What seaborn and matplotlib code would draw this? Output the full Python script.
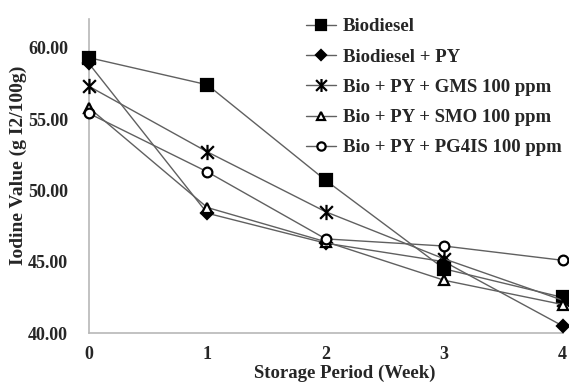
import matplotlib
matplotlib.use("Agg")
import matplotlib.pyplot as plt
from matplotlib.path import Path
import seaborn as sns
import pandas as pd

weeks = [0, 1, 2, 3, 4]
biodiesel = [59.3, 57.4, 50.7, 44.5, 42.5]
biodiesel_py = [58.9, 48.4, 46.3, 45.0, 40.5]
gms = [57.3, 52.7, 48.5, 45.2, 42.3]
smo = [55.8, 48.8, 46.4, 43.7, 42.0]
pg4is = [55.4, 51.3, 46.6, 46.1, 45.1]

labels = ["Biodiesel", "Biodiesel + PY", "Bio + PY + GMS 100 ppm",
          "Bio + PY + SMO 100 ppm", "Bio + PY + PG4IS 100 ppm"]
series = [biodiesel, biodiesel_py, gms, smo, pg4is]
y_ticks = [40.0, 45.0, 50.0, 55.0, 60.0]

sns.set_style("white")
plt.rcParams['font.family'] = ['Liberation Serif', 'DejaVu Serif']
plt.rcParams['font.weight'] = 'bold'

# Excel style "star" marker: an X with a vertical stroke
star = Path([(-1, -1), (1, 1), (-1, 1), (1, -1), (0, -1.2), (0, 1.2)],
            [Path.MOVETO, Path.LINETO, Path.MOVETO, Path.LINETO,
             Path.MOVETO, Path.LINETO])

fig = plt.figure(figsize=(5.69, 3.82), dpi=100)
ax = fig.add_axes([0.156, 0.128, 0.833, 0.822])

markers = ['s', 'D', star, '^', 'o']
sizes = [8, 6, 11, 7, 7]
faces = ['black', 'black', 'black', 'white', 'white']

for lab, vals, m, ms, fc in zip(labels, series, markers, sizes, faces):
    df = pd.DataFrame({'week': weeks, 'value': vals})
    sns.lineplot(data=df, x='week', y='value', ax=ax, label=lab,
                 color='#606060', linewidth=1.0, marker=m, markersize=ms,
                 markerfacecolor=fc, markeredgecolor='black',
                 markeredgewidth=1.6, clip_on=False, zorder=3)

ax.set_xlim(0, 4)
ax.set_ylim(40, 62)
ax.set_xticks(weeks)
ax.set_yticks(y_ticks)
ax.set_yticklabels([f"{v:.2f}" for v in y_ticks])
ax.tick_params(axis='x', labelsize=13, length=0, pad=9)
ax.tick_params(axis='y', labelsize=13, length=0, pad=15)
for t in ax.get_xticklabels() + ax.get_yticklabels():
    t.set_fontweight('bold')

for side in ['top', 'right']:
    ax.spines[side].set_visible(False)
for side in ['left', 'bottom']:
    ax.spines[side].set_color('#b8b8b8')
    ax.spines[side].set_linewidth(1.2)

ax.set_xlabel('Storage Period (Week)', fontsize=13.5, fontweight='bold')
ax.set_ylabel('Iodine Value (g I2/100g)', fontsize=14, fontweight='bold')
ax.xaxis.set_label_coords(0.54, -0.1)
ax.yaxis.set_label_coords(-0.148, 0.535)
ax.yaxis.label.set_va('center')

leg = ax.legend(loc='upper right', bbox_to_anchor=(1.0, 0.972),
                bbox_transform=fig.transFigure, frameon=False,
                fontsize=13.5, handlelength=1.6, handletextpad=0.35,
                labelspacing=0.7, borderaxespad=0.0, markerscale=0.85)
for t in leg.get_texts():
    t.set_fontweight('bold')

fig.savefig('out.png', dpi=100)
